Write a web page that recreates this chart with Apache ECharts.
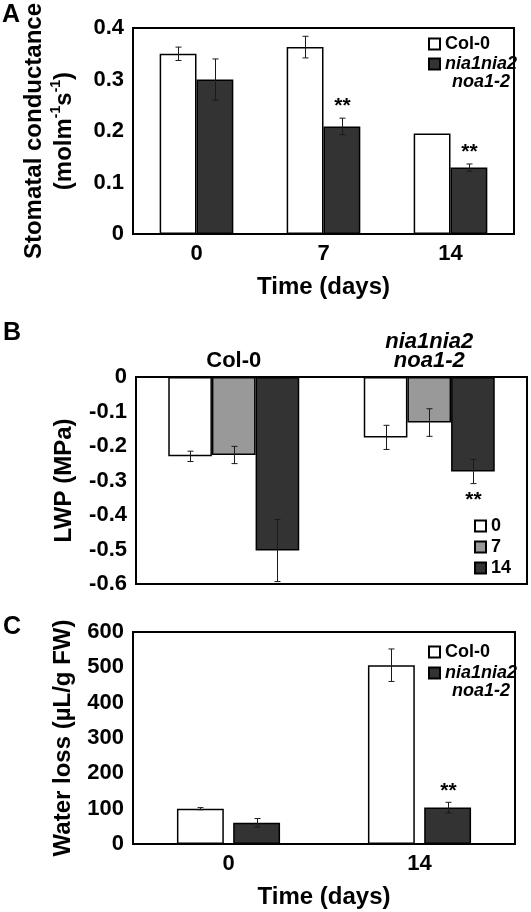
<!DOCTYPE html>
<html><head><meta charset="utf-8">
<script src="https://cdn.jsdelivr.net/npm/echarts@6/dist/echarts.min.js"></script>
<style>html,body{margin:0;padding:0;background:#fff}#c{width:531px;height:912px}</style>
</head><body><div id="c"></div>
<script>
// ---------- Panel A: stomatal conductance ----------
const daysA = ['0', '7', '14'];
const condCol = [0.350, 0.363, 0.195];
const condColErr = [0.013, 0.021, 0];
const condMut = [0.300, 0.209, 0.129];
const condMutErr = [0.040, 0.016, 0.007];
const condMutSig = ['', '**', '**'];
const ticksA = { min: 0, max: 0.4, interval: 0.1 };

// ---------- Panel B: leaf water potential ----------
const genotypesB = ['Col-0', 'nia1nia2\nnoa1-2'];
const lwpDay0 = [-0.230, -0.175];
const lwpDay0Err = [0.015, 0.035];
const lwpDay7 = [-0.226, -0.132];
const lwpDay7Err = [0.025, 0.040];
const lwpDay14 = [-0.503, -0.274];
const lwpDay14Err = [0.090, 0.035];
const lwpDay14Sig = ['', '**'];
const ticksB = { min: -0.6, max: 0, interval: 0.1 };

// ---------- Panel C: water loss ----------
const daysC = ['0', '14'];
const lossCol = [100, 506];
const lossColErr = [3, 46];
const lossMut = [60, 103];
const lossMutErr = [12, 15];
const lossMutSig = ['', '**'];
const ticksC = { min: 0, max: 600, interval: 100 };

const MUT = 'nia1nia2 noa1-2';
const FONT = 'Liberation Sans, Arial, sans-serif';
const WHITE = '#ffffff', GRAY = '#999999', DARK = '#333333';

function bar(name, grid, data, color, catGap, barGap) {
  return {
    name: name, type: 'bar', xAxisIndex: grid, yAxisIndex: grid, data: data,
    barCategoryGap: catGap, barGap: barGap,
    itemStyle: { color: color, borderColor: '#000', borderWidth: 1.5 },
    emphasis: { disabled: true }
  };
}

function errBars(grid, values, errs, nBars, idx, catGap, barGap, sig, sigBelow) {
  return {
    type: 'custom', xAxisIndex: grid, yAxisIndex: grid, z: 10, silent: true,
    data: values.map((v, i) => [i, v, errs[i]]),
    renderItem: function (params, api) {
      const i = api.value(0), v = api.value(1), e = api.value(2);
      const c = api.coord([i, v]);
      const catW = api.size([1, 0])[0];
      const bw = catW * (1 - catGap) / (nBars + (nBars - 1) * barGap);
      const total = bw * nBars + bw * barGap * (nBars - 1);
      const x = Math.round(c[0] - total / 2 + idx * bw * (1 + barGap) + bw / 2) + 0.5;
      const yT = api.coord([i, v + e])[1], yB = api.coord([i, v - e])[1];
      const children = [];
      const ls = { stroke: '#1a1a1a', lineWidth: 1 };
      if (e > 0) {
        children.push({ type: 'line', shape: { x1: x, y1: yT, x2: x, y2: yB }, style: ls });
        children.push({ type: 'line', shape: { x1: x - 3, y1: yT, x2: x + 3, y2: yT }, style: ls });
        children.push({ type: 'line', shape: { x1: x - 3, y1: yB, x2: x + 3, y2: yB }, style: ls });
      }
      const s = sig ? sig[params.dataIndex] : '';
      if (s) {
        children.push({
          type: 'text',
          style: {
            text: s, x: x, y: sigBelow ? yB + 6 : yT - 1,
            align: 'center', verticalAlign: sigBelow ? 'top' : 'bottom',
            fontSize: 21, fontWeight: 'bold', fontFamily: FONT, fill: '#000'
          }
        });
      }
      return { type: 'group', children: children };
    }
  };
}

const tickLabel = { fontSize: 22, fontWeight: 'bold', color: '#000', fontFamily: FONT, margin: 9 };
const nameStyle = { fontSize: 24, fontWeight: 'bold', color: '#000', fontFamily: FONT };
const axisLine = { show: true, onZero: false, lineStyle: { color: '#000', width: 2 } };
const gridBase = { show: true, borderColor: '#000', borderWidth: 2, backgroundColor: '#fff' };

const legendText = {
  fontSize: 18, fontWeight: 'bold', color: '#000', fontFamily: FONT,
  rich: {
    i: { fontSize: 18, fontWeight: 'bold', fontStyle: 'italic', fontFamily: FONT, width: 72, align: 'center', lineHeight: 18 }
  }
};
function colLegend(left, top) {
  return {
    orient: 'vertical', left: left, top: top, itemWidth: 11, itemHeight: 11, padding: 0,
    icon: 'rect', selectedMode: false, textStyle: legendText, itemGap: 0,
    data: ['Col-0']
  };
}
function mutLegend(left, top) {
  return {
    orient: 'vertical', left: left, top: top, itemWidth: 11, itemHeight: 11, padding: 0,
    icon: 'rect', selectedMode: false, itemGap: 0,
    textStyle: Object.assign({}, legendText, { padding: [18, 0, 0, 0] }),
    data: [MUT],
    formatter: function () { return '{i|nia1nia2}\n{i|noa1-2}'; }
  };
}

const chart = echarts.init(document.getElementById('c'), null, { renderer: 'canvas' });
const catGapA = 0.42, catGapB = 0.33, catGapC = 0.46, barGapC = 0.2;
const letter = { fontSize: 25, fontWeight: 'bold', color: '#000', fontFamily: FONT };

const option = {
  animation: false,
  backgroundColor: '#fff',
  textStyle: { fontFamily: FONT },
  title: [
    { text: 'A', left: 2, top: 3, padding: 0, textStyle: letter },
    { text: 'B', left: 3, top: 321, padding: 0, textStyle: letter },
    { text: 'C', left: 3, top: 615, padding: 0, textStyle: letter }
  ],
  grid: [
    Object.assign({ left: 133, top: 26, width: 381, height: 208 }, gridBase),
    Object.assign({ left: 136, top: 377, width: 391, height: 207 }, gridBase),
    Object.assign({ left: 133, top: 632, width: 382, height: 212 }, gridBase)
  ],
  legend: [
    colLegend(428, 35),
    mutLegend(428, 55),
    {
      orient: 'vertical', left: 474, top: 517, itemWidth: 11, itemHeight: 11, itemGap: 3, padding: 0,
      icon: 'rect', selectedMode: false, textStyle: legendText, data: ['0', '7', '14']
    },
    colLegend(428, 643),
    mutLegend(428, 664)
  ],
  xAxis: [
    {
      gridIndex: 0, type: 'category', data: daysA, axisLine: axisLine, axisTick: { show: false },
      axisLabel: tickLabel, name: 'Time (days)', nameLocation: 'middle', nameGap: 41, nameTextStyle: nameStyle
    },
    {
      gridIndex: 1, type: 'category', data: genotypesB, position: 'top', axisLine: axisLine, axisTick: { show: false },
      axisLabel: {
        margin: 7, color: '#000',
        formatter: function (v) {
          return v.indexOf('\n') >= 0 ? v.split('\n').map(s => '{i|' + s + '}').join('\n') : '{b|' + v + '}';
        },
        rich: {
          b: { fontSize: 22, fontWeight: 'bold', fontFamily: FONT, lineHeight: 19 },
          i: { fontSize: 22, fontWeight: 'bold', fontStyle: 'italic', fontFamily: FONT, lineHeight: 19 }
        }
      }
    },
    {
      gridIndex: 2, type: 'category', data: daysC, axisLine: axisLine, axisTick: { show: false },
      axisLabel: tickLabel, name: 'Time (days)', nameLocation: 'middle', nameGap: 41, nameTextStyle: nameStyle
    }
  ],
  yAxis: [
    {
      gridIndex: 0, type: 'value', min: ticksA.min, max: ticksA.max, interval: ticksA.interval,
      axisLine: axisLine, axisTick: { show: false }, splitLine: { show: false }, axisLabel: tickLabel,
      name: '{n|Stomatal conductance}\n{n|(molm}{s|-1}{n|s}{s|-1}{n|)}',
      nameLocation: 'middle', nameRotate: 90, nameGap: 54,
      nameTextStyle: {
        rich: {
          n: { fontSize: 24, fontWeight: 'bold', fontFamily: FONT, color: '#000', lineHeight: 30 },
          s: { fontSize: 14, fontWeight: 'bold', fontFamily: FONT, color: '#000', lineHeight: 16, verticalAlign: 'top' }
        }
      }
    },
    {
      gridIndex: 1, type: 'value', min: ticksB.min, max: ticksB.max, interval: ticksB.interval,
      axisLine: axisLine, axisTick: { show: false }, splitLine: { show: false }, axisLabel: tickLabel,
      name: 'LWP (MPa)', nameLocation: 'middle', nameRotate: 90, nameGap: 60, nameTextStyle: nameStyle
    },
    {
      gridIndex: 2, type: 'value', min: ticksC.min, max: ticksC.max, interval: ticksC.interval,
      axisLine: axisLine, axisTick: { show: false }, splitLine: { show: false }, axisLabel: tickLabel,
      name: 'Water loss (\u00b5L/g FW)', nameLocation: 'middle', nameRotate: 90, nameGap: 58, nameTextStyle: nameStyle
    }
  ],
  series: [
    bar('Col-0', 0, condCol, WHITE, '42%', '0%'),
    bar(MUT, 0, condMut, DARK, '42%', '0%'),
    errBars(0, condCol, condColErr, 2, 0, catGapA, 0, null, false),
    errBars(0, condMut, condMutErr, 2, 1, catGapA, 0, condMutSig, false),

    bar('0', 1, lwpDay0, WHITE, '33%', '0%'),
    bar('7', 1, lwpDay7, GRAY, '33%', '0%'),
    bar('14', 1, lwpDay14, DARK, '33%', '0%'),
    errBars(1, lwpDay0, lwpDay0Err, 3, 0, catGapB, 0, null, true),
    errBars(1, lwpDay7, lwpDay7Err, 3, 1, catGapB, 0, null, true),
    errBars(1, lwpDay14, lwpDay14Err, 3, 2, catGapB, 0, lwpDay14Sig, true),

    bar('Col-0', 2, lossCol, WHITE, '46%', '20%'),
    bar(MUT, 2, lossMut, DARK, '46%', '20%'),
    errBars(2, lossCol, lossColErr, 2, 0, catGapC, barGapC, null, false),
    errBars(2, lossMut, lossMutErr, 2, 1, catGapC, barGapC, lossMutSig, false)
  ]
};
chart.setOption(option);
</script>
</body></html>
